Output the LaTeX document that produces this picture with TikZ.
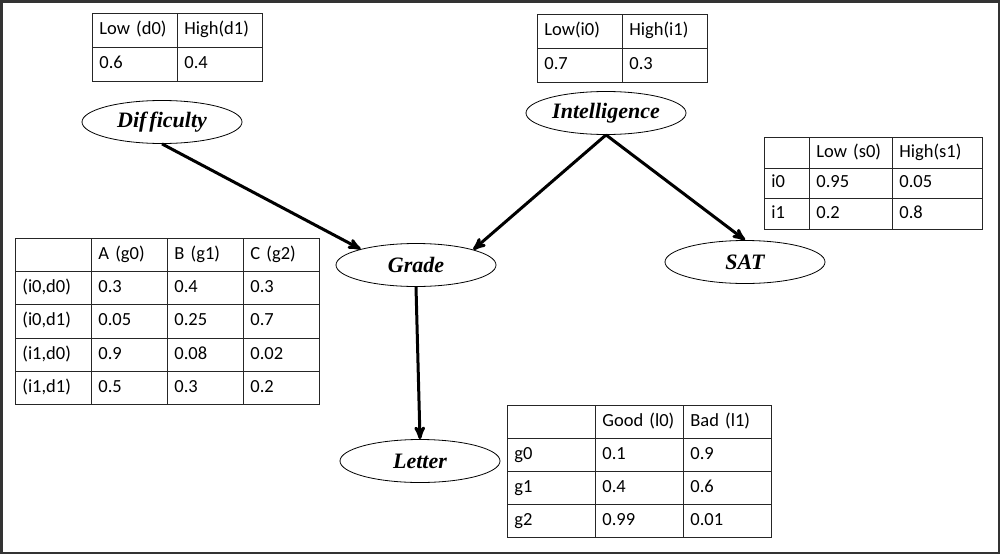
\documentclass[tikz,border=0pt]{standalone}
\usepackage{fontspec}
\setmainfont{Carlito}
\newfontfamily\varfont[Ligatures=NoCommon]{Liberation Serif}
\usepackage{tikz}
\usetikzlibrary{matrix, shapes.geometric, arrows, positioning}
\tikzset{x=1pt, y=-1pt, >=stealth',
	var/.style={ellipse, draw, line width=0.8pt, minimum width=160pt, minimum height=43pt, inner sep=0pt, font=\varfont\fontsize{22}{26}\selectfont\bfseries\itshape},
	link/.style={->, line width=3pt},
	cpd/.style={matrix of nodes, nodes in empty cells, inner sep=0pt, outer sep=0pt, anchor=north west, column sep=-0.8pt, row sep=-0.8pt,
		nodes={draw=black!85, line width=0.8pt, anchor=center, inner xsep=7pt, inner ysep=0pt, text width=#1, align=left, text height=13pt, text depth=4pt, font=\fontsize{18.5}{22}\selectfont}}}

\begin{document}
\begin{tikzpicture}
	\useasboundingbox (0,0) rectangle (1000,554);
	\draw[line width=2.5pt, black!80] (1.25,1.25) rectangle (998.75,552.75);
	% variables
	\node[var] (diff) at (162,122) {Dif\kern3pt ficulty};
	\node[var] (intel) at (606,113) {Intelligence};
	\node[var] (grade) at (416,265) {Grade};
	\node[var] (sat) at (745,262) {SAT};
	\node[var] (letter) at (420,461) {Letter};
	% tables
	\matrix (diffcpd) [cpd=71pt, nodes={minimum height=34pt}] at (92,13) {
		Low (d0) & High(d1) \\
		0.6 & 0.4 \\
	};
	\matrix (intelcpd) [cpd=71pt, nodes={minimum height=34pt}] at (537,14) {
		Low(i0) & High(i1) \\
		0.7 & 0.3 \\
	};
	\matrix (satcpd) [cpd=69pt, nodes={minimum height=30.7pt}, column 1/.style={nodes={text width=31pt}}, column 3/.style={nodes={text width=76pt}}] at (764,137) {
		& Low (s0) & High(s1) \\
		i0 & 0.95 & 0.05 \\
		i1 & 0.2 & 0.8 \\
	};
	\matrix (gradecpd) [cpd=62pt, nodes={minimum height=33.2pt}] at (15,238) {
		& A (g0) & B (g1) & C (g2) \\
		(i0,d0) & 0.3 & 0.4 & 0.3 \\
		(i0,d1) & 0.05 & 0.25 & 0.7 \\
		(i1,d0) & 0.9 & 0.08 & 0.02 \\
		(i1,d1) & 0.5 & 0.3 & 0.2 \\
	};
	\matrix (lettercpd) [cpd=74pt, nodes={minimum height=33pt}] at (507,405) {
		& Good (l0) & Bad (l1) \\
		g0 & 0.1 & 0.9 \\
		g1 & 0.4 & 0.6 \\
		g2 & 0.99 & 0.01 \\
	};
	% edges
	\draw[link] (diff.south) -- (grade.164);
	\draw[link] (intel.south) -- (grade.15);
	\draw[link] (intel.south) -- (sat.north);
	\draw[link] (grade.south) -- (letter.north);
\end{tikzpicture}
\end{document}
